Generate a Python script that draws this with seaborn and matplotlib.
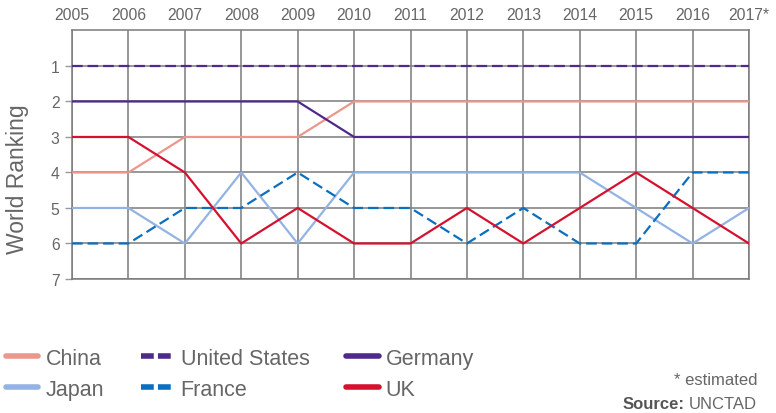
import pandas as pd
import matplotlib.pyplot as plt
import seaborn as sns

# data
years = [2005, 2006, 2007, 2008, 2009, 2010, 2011, 2012, 2013, 2014, 2015, 2016, 2017]
year_labels = ['2005', '2006', '2007', '2008', '2009', '2010', '2011',
               '2012', '2013', '2014', '2015', '2016', '2017*']
china = [4, 4, 3, 3, 3, 2, 2, 2, 2, 2, 2, 2, 2]
japan = [5, 5, 6, 4, 6, 4, 4, 4, 4, 4, 5, 6, 5]
united_states = [1, 1, 1, 1, 1, 1, 1, 1, 1, 1, 1, 1, 1]
france = [6, 6, 5, 5, 4, 5, 5, 6, 5, 6, 6, 4, 4]
germany = [2, 2, 2, 2, 2, 3, 3, 3, 3, 3, 3, 3, 3]
uk = [3, 3, 4, 6, 5, 6, 6, 5, 6, 5, 4, 5, 6]

series = {
    'China': china,
    'Japan': japan,
    'United States': united_states,
    'France': france,
    'Germany': germany,
    'UK': uk,
}
palette = {
    'China': '#EB978B',
    'Japan': '#93B3E3',
    'United States': '#4F2A8C',
    'France': '#0A6FBF',
    'Germany': '#4F2A8C',
    'UK': '#D4122F',
}
dashed = {'United States', 'France'}

rows = []
for name, vals in series.items():
    for y, v in zip(years, vals):
        rows.append({'Year': y, 'Rank': v, 'Country': name})
df = pd.DataFrame(rows)

sns.set_style('white')
plt.rcParams['font.family'] = ['Liberation Sans', 'DejaVu Sans']
text_grey = '#666666'
grid_grey = '#7a7a7a'

fig = plt.figure(figsize=(7.76, 4.14), dpi=100)
ax = fig.add_axes([0.0928, 0.3237, 0.8724, 0.6003])

dash_map = {c: ((4.8, 2.2) if c in dashed else '') for c in series}
sns.lineplot(data=df, x='Year', y='Rank', hue='Country', style='Country',
             palette=palette, dashes=dash_map, linewidth=1.6, ax=ax,
             legend=False, zorder=3)

ax.set_xlim(2005, 2017)
ax.set_ylim(7, 0)
ax.set_yticks(range(1, 8))
ax.set_xticks(years)
ax.set_xticklabels(year_labels)
ax.xaxis.tick_top()
ax.tick_params(axis='x', length=0, pad=6, labelsize=11.3, colors=text_grey)
ax.tick_params(axis='y', length=5, width=1, color='#999999', pad=4,
               labelsize=11.3, labelcolor=text_grey, left=True)
ax.grid(True, color=grid_grey, linewidth=1.1, zorder=0)
ax.set_axisbelow(True)
for side in ['top', 'left', 'right', 'bottom']:
    ax.spines[side].set_color(grid_grey)
    ax.spines[side].set_linewidth(1.1)
ax.set_xlabel('')
ax.set_ylabel('World Ranking', fontsize=16.5, color=text_grey)
ax.yaxis.set_label_coords(-0.064, 0.405)

# legend in the same order as the reference (filled column-wise)
handles = []
for name in series:
    h = plt.Line2D([], [], color=palette[name], linewidth=4,
                   linestyle=(0, (2.3, 0.75)) if name in dashed else '-')
    handles.append(h)
fig.legend(handles, list(series.keys()), loc='upper left',
           bbox_to_anchor=(0.008, 1 - 349 / 414), ncol=3, frameon=False,
           fontsize=15.5, labelcolor=text_grey, handlelength=1.5,
           handletextpad=0.33, columnspacing=1.72, labelspacing=0.45,
           borderaxespad=0, borderpad=0)

fig.text(757 / 776, 1 - 381 / 414, '* estimated', ha='right', va='center',
         fontsize=12, color=text_grey)
src = fig.text(757 / 776, 1 - 405 / 414, 'UNCTAD', ha='right', va='center',
               fontsize=12, color=text_grey)
renderer = fig.canvas.get_renderer()
bb = src.get_window_extent(renderer=renderer)
fig.text((bb.x0 - 4) / fig.bbox.width, 1 - 405 / 414, 'Source:', ha='right',
         va='center', fontsize=12, color='#555555', fontweight='bold')

fig.savefig('out.png', dpi=100)
